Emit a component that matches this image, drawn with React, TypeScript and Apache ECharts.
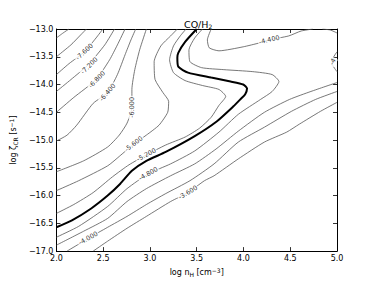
import React, { useEffect, useRef } from "react";
import * as echarts from "echarts";

// Axis ranges / ticks
const X_TICKS = [2.0, 2.5, 3.0, 3.5, 4.0, 4.5, 5.0];
const Y_TICKS = [-17.0, -16.5, -16.0, -15.5, -15.0, -14.5, -14.0, -13.5, -13.0];

// Contour lines of log(CO/H2), [log nH, log zeta_CR]
const C84 = [[2.0, -13.161], [2.072, -13.071], [2.134, -13.0]];
const C80 = [[2.0, -13.5], [2.155, -13.286], [2.259, -13.107], [2.321, -13.0]];
const C76 = [[2.0, -13.821], [2.134, -13.625], [2.3, -13.411], [2.424, -13.161], [2.497, -13.0]];
const C72 = [[2.0, -14.125], [2.155, -13.911], [2.341, -13.643], [2.517, -13.286], [2.621, -13.0]];
const C68 = [[2.0, -14.5], [2.186, -14.232], [2.424, -13.911], [2.569, -13.554], [2.652, -13.286], [2.734, -13.0]];
const C64 = [[2.0, -15.018], [2.114, -14.911], [2.217, -14.732], [2.393, -14.339], [2.548, -14.143], [2.652, -13.821], [2.734, -13.464], [2.797, -13.196], [2.848, -13.0]];
const C60 = [[2.0, -15.571], [2.29, -15.375], [2.548, -15.125], [2.672, -14.911], [2.755, -14.696], [2.807, -14.411], [2.807, -14.089], [2.838, -13.732], [2.89, -13.375], [2.962, -13.0]];
const C56 = [[2.0, -15.911], [2.238, -15.732], [2.548, -15.464], [2.703, -15.25], [2.828, -15.071], [2.962, -14.911], [3.097, -14.732], [3.19, -14.5], [3.2, -14.304], [3.138, -14.143], [3.055, -13.911], [3.045, -13.589], [3.117, -13.304], [3.221, -13.125], [3.293, -13.0]];
const C52 = [[2.0, -16.321], [2.186, -16.161], [2.393, -15.946], [2.6, -15.661], [2.776, -15.446], [2.962, -15.268], [3.169, -15.089], [3.376, -14.946], [3.531, -14.786], [3.655, -14.589], [3.738, -14.375], [3.81, -14.214], [3.738, -14.089], [3.562, -14.018], [3.376, -13.929], [3.252, -13.786], [3.21, -13.554], [3.252, -13.304], [3.324, -13.125], [3.386, -13.0]];
const C50 = [[2.0, -16.571], [2.166, -16.446], [2.372, -16.232], [2.548, -16.0], [2.683, -15.786], [2.807, -15.554], [2.962, -15.375], [3.169, -15.214], [3.479, -14.929], [3.717, -14.661], [3.893, -14.393], [3.966, -14.268], [4.017, -14.179], [4.038, -14.071], [3.997, -14.0], [3.862, -13.946], [3.655, -13.875], [3.407, -13.786], [3.303, -13.679], [3.293, -13.518], [3.303, -13.429], [3.376, -13.232], [3.5, -13.0]];
const C48 = [[2.0, -16.75], [2.238, -16.554], [2.548, -16.196], [2.755, -15.875], [2.983, -15.607], [3.221, -15.429], [3.479, -15.196], [3.738, -14.857], [3.945, -14.536], [4.183, -14.268], [4.307, -14.125], [4.379, -13.946], [4.307, -13.821], [4.1, -13.768], [3.79, -13.732], [3.552, -13.696], [3.428, -13.589], [3.417, -13.375], [3.479, -13.161], [3.562, -13.0]];
const C44_TOP = [[3.655, -13.0], [3.614, -13.196], [3.634, -13.339], [3.738, -13.393], [3.997, -13.321], [4.172, -13.25], [4.276, -13.196], [4.483, -13.125], [4.617, -13.036], [4.741, -13.0]];
const C44_CORNER = [[4.845, -13.0], [4.928, -13.018], [5.0, -13.071]];
const C44_EDGE = [[5.0, -13.411], [4.959, -13.518], [4.948, -13.625], [5.0, -13.768]];
const C44_LOW = [[2.0, -16.893], [2.29, -16.643], [2.548, -16.411], [2.755, -16.107], [2.962, -15.875], [3.221, -15.643], [3.479, -15.429], [3.707, -15.161], [3.945, -14.839], [4.224, -14.5], [4.493, -14.268], [4.721, -14.125], [5.0, -13.964]];
const C40 = [[2.114, -17.0], [2.238, -16.875], [2.341, -16.768], [2.548, -16.571], [2.755, -16.375], [2.962, -16.161], [3.169, -15.964], [3.428, -15.732], [3.686, -15.429], [3.945, -15.036], [4.224, -14.768], [4.514, -14.482], [4.772, -14.268], [5.0, -14.125]];
const C36 = [[2.393, -17.0], [2.548, -16.821], [2.755, -16.589], [2.962, -16.375], [3.221, -16.107], [3.407, -15.946], [3.583, -15.732], [3.686, -15.643], [3.945, -15.339], [4.224, -15.036], [4.462, -14.857], [4.597, -14.714], [4.824, -14.482], [5.0, -14.321]];
const TINY_LOOP = [[4.824, -13.143]];

// Contour labels: position, text, rotation (deg)
const LABEL_POS = [[2.3, -13.411], [2.352, -13.661], [2.434, -13.911], [2.548, -14.143], [2.807, -14.411], [2.828, -15.071], [2.962, -15.268], [2.983, -15.607], [4.276, -13.196], [2.341, -16.768], [3.407, -15.946], [4.955, -13.589]];
const LABEL_TEXT = ["-7.600", "-7.200", "-6.800", "-6.400", "-6.000", "-5.600", "-5.200", "-4.800", "-4.400", "-4.000", "-3.600", "-4"];
const LABEL_ROT = [43, 45, 46, 49, 90, 37, 28, 29, 13, 29, 31, 60];

const THIN_LINES = [C84, C80, C76, C72, C68, C64, C60, C56, C52, C48, C44_TOP, C44_CORNER, C44_EDGE, C44_LOW, C40, C36];

const FONT = "DejaVu Sans";

const fmt = (v: number) => (v < 0 ? "\u2212" : "") + Math.abs(v).toFixed(1);

const rich = {
  sub: { fontSize: 6, fontFamily: FONT, color: "#000", padding: [4, 0, 0, 0] },
  sup: { fontSize: 6, fontFamily: FONT, color: "#000", padding: [0, 0, 4, 0] },
};

export default function App() {
  const ref = useRef<HTMLDivElement>(null);
  useEffect(() => {
    if (!ref.current) return;
    const chart = echarts.init(ref.current, undefined, { renderer: "svg" });
    const axisCommon = {
      type: "value" as const,
      splitLine: { show: false },
      axisLine: { show: true, lineStyle: { color: "#000", width: 1 } },
      axisTick: { show: true, inside: true, length: 4, lineStyle: { color: "#000", width: 0.8 } },
    };
    const series: any[] = THIN_LINES.map((pts) => ({
      type: "line",
      data: pts,
      showSymbol: false,
      smooth: 0.2,
      lineStyle: { color: "#555", width: 0.8 },
      z: 2,
      silent: true,
    }));
    series.push({
      type: "line",
      data: C50,
      showSymbol: false,
      smooth: 0.2,
      lineStyle: { color: "#000", width: 2 },
      z: 3,
      silent: true,
    });
    series.push({
      type: "scatter",
      data: TINY_LOOP,
      symbol: "emptyCircle",
      symbolSize: 3.5,
      itemStyle: { color: "#fff", borderColor: "#555", borderWidth: 0.8 },
      z: 3,
    });
    series.push({
      type: "scatter",
      data: LABEL_POS.map((p, i) => ({
        value: p,
        name: LABEL_TEXT[i],
        label: { rotate: LABEL_ROT[i] },
      })),
      symbolSize: 1,
      itemStyle: { color: "rgba(0,0,0,0)" },
      z: 5,
      label: {
        show: true,
        position: "inside",
        formatter: (p: any) => p.name,
        fontSize: 6.5,
        fontFamily: FONT,
        color: "#000",
        textBorderWidth: 0,
        backgroundColor: "#fff",
        padding: [0, 1],
      },
    });

    chart.setOption({
      animation: false,
      backgroundColor: "#fff",
      title: {
        text: "CO/H{sub|2}",
        left: 179,
        top: 14,
        textStyle: { fontSize: 9.5, fontFamily: FONT, color: "#000", fontWeight: "normal", rich },
      },
      grid: { left: 47, right: 37, top: 29, bottom: 29 },
      xAxis: [
        {
          ...axisCommon,
          position: "bottom",
          min: X_TICKS[0],
          max: X_TICKS[X_TICKS.length - 1],
          interval: 0.5,
          axisLabel: { formatter: fmt, fontSize: 8, fontFamily: FONT, color: "#000", margin: 3 },
          name: "log n{sub|H} [cm{sup|\u22123}]",
          nameLocation: "middle",
          nameGap: 13,
          nameTextStyle: { fontSize: 8, fontFamily: FONT, color: "#000", rich },
        },
        {
          ...axisCommon,
          position: "top",
          min: X_TICKS[0],
          max: X_TICKS[X_TICKS.length - 1],
          interval: 0.5,
          axisLabel: { show: false },
        },
      ],
      yAxis: [
        {
          ...axisCommon,
          position: "left",
          min: Y_TICKS[0],
          max: Y_TICKS[Y_TICKS.length - 1],
          interval: 0.5,
          axisLabel: { formatter: fmt, fontSize: 8, fontFamily: FONT, color: "#000", margin: 3 },
          name: "log \u03b6{sub|CR} [s{sup|\u22121}]",
          nameLocation: "middle",
          nameRotate: 90,
          nameGap: 29,
          nameTextStyle: { fontSize: 8, fontFamily: FONT, color: "#000", rich },
        },
        {
          ...axisCommon,
          position: "right",
          min: Y_TICKS[0],
          max: Y_TICKS[Y_TICKS.length - 1],
          interval: 0.5,
          axisLabel: { show: false },
        },
      ],
      series,
    });
    return () => chart.dispose();
  }, []);
  return <div ref={ref} style={{ width: 374, height: 282, position: "absolute", left: 0, top: 0 }} />;
}
